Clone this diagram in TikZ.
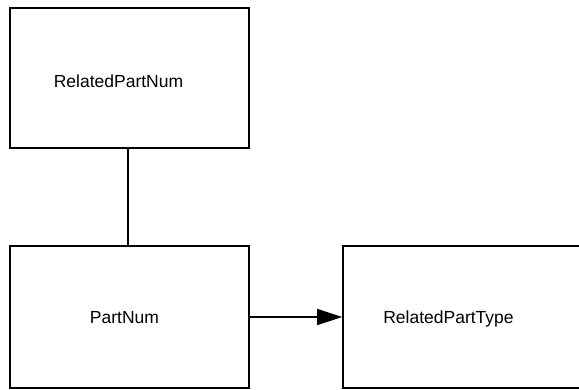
\documentclass[tikz,border=0pt]{standalone}
\usepackage{fontspec}
\setmainfont{Liberation Sans}
\usetikzlibrary{arrows.meta}
\begin{document}
\begin{tikzpicture}[x=1pt,y=-1pt,
  entity/.style={draw=black,line width=1.6pt,minimum width=239pt,inner sep=0pt},
  lbl/.style={inner sep=0pt,anchor=base,font=\fontsize{17.5}{19}\selectfont},
  conn/.style={line width=1.6pt}]
\useasboundingbox (0,0) rectangle (579,389);
\node[entity,minimum height=140pt] (rpn) at (129.5,78) {};
\node[entity,minimum height=142pt] (pn) at (129.5,317) {};
\node[entity,minimum height=142pt,minimum width=260pt] (rpt) at (473,317) {};
\node[lbl] (trpn) at (118.5,87) {RelatedPartNum};
\node[lbl] (tpn) at (124.5,323) {PartNum};
\node[lbl] (trpt) at (448.5,323) {RelatedPartType};
\draw[conn] (rpn.south -| 128,0) -- (pn.north -| 128,0);
\draw[conn,-{Triangle[length=25pt,width=16pt]}] (pn.east) -- (rpt.west);
\end{tikzpicture}
\end{document}
